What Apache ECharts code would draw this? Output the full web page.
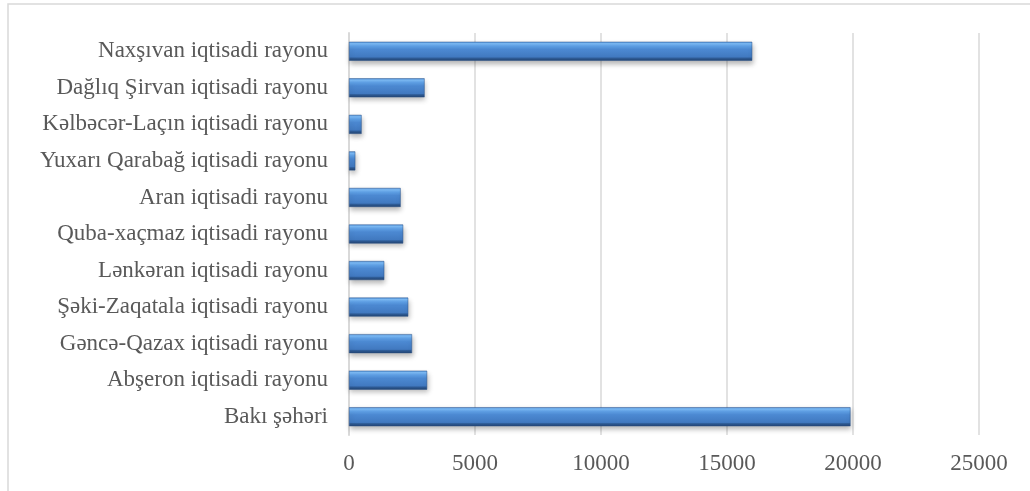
<!DOCTYPE html>
<html>
<head>
<meta charset="utf-8">
<script src="https://cdn.jsdelivr.net/npm/echarts@6/dist/echarts.min.js"></script>
<style>html,body{margin:0;padding:0;background:#fff}#c{width:1030px;height:491px}</style>
</head>
<body>
<div id="c"></div>
<script>
const categories = [
  "Bakı şəhəri",
  "Abşeron iqtisadi rayonu",
  "Gəncə-Qazax iqtisadi rayonu",
  "Şəki-Zaqatala iqtisadi rayonu",
  "Lənkəran iqtisadi rayonu",
  "Quba-xaçmaz iqtisadi rayonu",
  "Aran iqtisadi rayonu",
  "Yuxarı Qarabağ iqtisadi rayonu",
  "Kəlbəcər-Laçın iqtisadi rayonu",
  "Dağlıq Şirvan iqtisadi rayonu",
  "Naxşıvan iqtisadi rayonu"
];
const values = [19900, 3100, 2500, 2350, 1400, 2150, 2050, 250, 500, 3000, 16000];
const xTicks = [0, 5000, 10000, 15000, 20000, 25000];

const chart = echarts.init(document.getElementById('c'));
const font = "'Liberation Serif','Times New Roman',serif";
chart.setOption({
  animation: false,
  backgroundColor: '#fff',
  graphic: [{
    type: 'rect', z: -1,
    shape: { x: 8, y: 4, width: 1100, height: 600 },
    style: { fill: 'none', stroke: '#d9d9d9', lineWidth: 1.5 }
  }],
  grid: { left: 349, right: 51, top: 33, bottom: 56, containLabel: false },
  xAxis: {
    type: 'value',
    min: xTicks[0], max: xTicks[xTicks.length - 1], interval: 5000,
    axisLine: { show: false },
    axisTick: { show: false },
    splitLine: { lineStyle: { color: '#d9d9d9', width: 1.5 } },
    axisLabel: { color: '#595959', fontFamily: font, fontSize: 23, margin: 17,
      formatter: v => String(v) }
  },
  yAxis: {
    type: 'category',
    data: categories,
    axisLine: { show: true, lineStyle: { color: '#d9d9d9', width: 2 } },
    axisTick: { show: false },
    axisLabel: { color: '#595959', fontFamily: font, fontSize: 23, margin: 21 }
  },
  series: [{
    type: 'bar',
    data: values,
    barWidth: 19,
    itemStyle: {
      color: new echarts.graphic.LinearGradient(0, 0, 0, 1, [
        { offset: 0, color: '#5596de' },
        { offset: 0.1, color: '#7cbaf5' },
        { offset: 0.22, color: '#60a2e8' },
        { offset: 0.4, color: '#4c89d2' },
        { offset: 0.8, color: '#4179c0' },
        { offset: 0.86, color: '#2f5d98' },
        { offset: 1, color: '#22426f' }
      ]),
      borderColor: '#2a5288',
      borderWidth: 0.5,
      shadowColor: 'rgba(0,0,0,0.28)',
      shadowBlur: 5,
      shadowOffsetY: 3,
      shadowOffsetX: 1
    }
  }]
});
</script>
</body>
</html>
